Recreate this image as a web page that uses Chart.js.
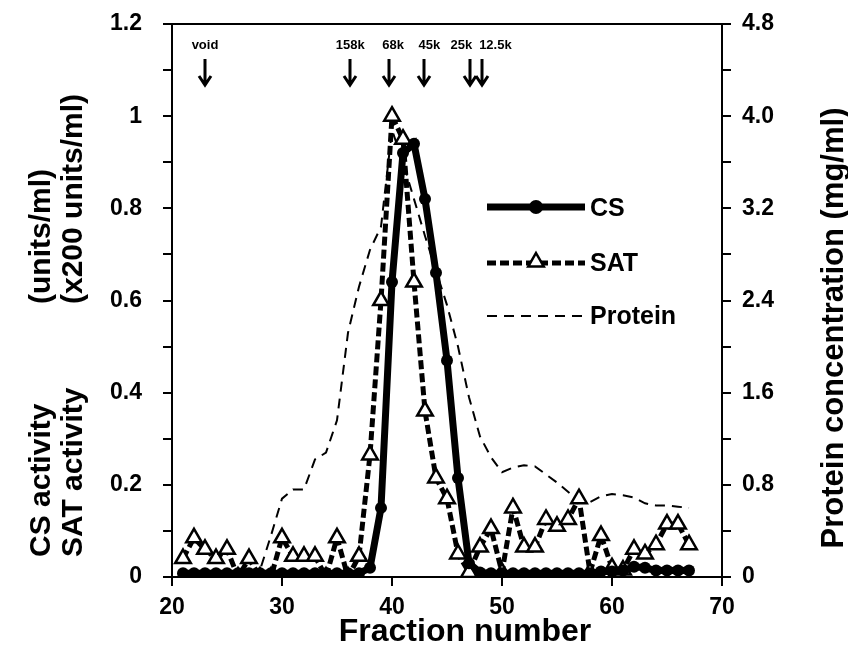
<!DOCTYPE html>
<html>
<head>
<meta charset="utf-8">
<script src="https://cdn.jsdelivr.net/npm/chart.js@4.4.1/dist/chart.umd.min.js"></script>
<style>
  html, body { margin: 0; padding: 0; background: #fff; }
  #wrap { width: 848px; height: 660px; }
</style>
</head>
<body>
<div id="wrap"><canvas id="chart" width="848" height="660"></canvas></div>
<script>
// fraction numbers for CS and SAT assays
const fractions = [21, 22, 23, 24, 25, 26, 27, 28, 29, 30, 31, 32, 33, 34, 35, 36, 37, 38, 39, 40,
  41, 42, 43, 44, 45, 46, 47, 48, 49, 50, 51, 52, 53, 54, 55, 56, 57, 58, 59, 60,
  61, 62, 63, 64, 65, 66, 67];

// CS activity (units/ml)
const csActivity = [0.008, 0.008, 0.008, 0.008, 0.008, 0.008, 0.008, 0.008, 0.008, 0.008,
  0.008, 0.008, 0.008, 0.008, 0.008, 0.008, 0.008, 0.02, 0.15, 0.64,
  0.92, 0.94, 0.82, 0.66, 0.47, 0.215, 0.03, 0.01, 0.008, 0.008,
  0.008, 0.008, 0.008, 0.008, 0.008, 0.008, 0.008, 0.008, 0.012, 0.012,
  0.014, 0.022, 0.02, 0.014, 0.014, 0.014, 0.014];

// SAT activity (x200 units/ml)
const satActivity = [0.04, 0.085, 0.06, 0.04, 0.06, 0.0, 0.04, 0.0, 0.0, 0.085,
  0.045, 0.045, 0.045, 0.0, 0.085, 0.0, 0.045, 0.265, 0.6, 1.0,
  0.95, 0.64, 0.36, 0.215, 0.17, 0.05, 0.01, 0.065, 0.105, 0.01,
  0.15, 0.065, 0.065, 0.125, 0.11, 0.125, 0.17, 0.01, 0.09, 0.02,
  0.015, 0.06, 0.05, 0.07, 0.115, 0.115, 0.07];

// protein concentration (mg/ml), right axis
const proteinFractions = [27, 28, 29, 30, 31, 32, 33, 34, 35, 36, 37, 38, 39, 40,
  41, 42, 43, 44, 45, 46, 47, 48, 49, 50, 51, 52, 53, 54, 55, 56, 57, 58, 59, 60,
  61, 62, 63, 64, 65, 66, 67];
const proteinConc = [0.0, 0.06, 0.36, 0.68, 0.76, 0.76, 1.02, 1.08, 1.36, 2.12, 2.52, 2.84, 3.04, 3.88,
  3.6, 3.28, 2.96, 2.66, 2.36, 2.0, 1.56, 1.22, 1.04, 0.91, 0.95, 0.97, 0.96, 0.89, 0.82, 0.74,
  0.66, 0.65, 0.7, 0.72, 0.71, 0.69, 0.64, 0.62, 0.62, 0.61, 0.6];

// molecular weight markers along the top
const markerLabels = ["void", "158k", "68k", "45k", "25k", "12.5k"];
const markerArrowAt = [23, 36.2, 39.7, 42.9, 47.1, 48.2];
const markerLabelAt = [23, 36.2, 40.1, 43.4, 46.3, 49.4];

const FONT = "'Liberation Sans', Arial, Helvetica, sans-serif";

const toPoints = (xs, ys) => xs.map((x, i) => ({ x, y: ys[i] }));

function vtext(ctx, s, cx, cy, align) {
  ctx.save();
  ctx.translate(cx, cy);
  ctx.rotate(-Math.PI / 2);
  ctx.textAlign = align;
  ctx.textBaseline = 'middle';
  ctx.fillText(s, 0, 0);
  ctx.restore();
}

function triangle(ctx, cx, cy, r) {
  ctx.beginPath();
  ctx.moveTo(cx, cy - r);
  ctx.lineTo(cx + r * 0.866, cy + r * 0.5);
  ctx.lineTo(cx - r * 0.866, cy + r * 0.5);
  ctx.closePath();
  ctx.fillStyle = '#fff';
  ctx.fill();
  ctx.lineWidth = 2.5;
  ctx.setLineDash([]);
  ctx.strokeStyle = '#000';
  ctx.stroke();
}

function arrow(ctx, cx, y0, y1) {
  ctx.beginPath();
  ctx.moveTo(cx, y0);
  ctx.lineTo(cx, y1 - 2);
  ctx.moveTo(cx - 6, y1 - 10);
  ctx.lineTo(cx, y1 - 1);
  ctx.lineTo(cx + 6, y1 - 10);
  ctx.stroke();
}

// frame top, annotations, titles and the inset legend
const decor = {
  id: 'decor',
  afterDraw(chart) {
    const ctx = chart.ctx, xs = chart.scales.x, a = chart.chartArea;
    ctx.save();
    ctx.strokeStyle = '#000';
    ctx.fillStyle = '#000';
    ctx.lineWidth = 2;
    ctx.beginPath();
    ctx.moveTo(a.left - 1, a.top);
    ctx.lineTo(a.right + 1, a.top);
    ctx.stroke();

    ctx.font = 'bold 13px ' + FONT;
    ctx.textAlign = 'center';
    ctx.textBaseline = 'alphabetic';
    markerLabels.forEach((t, i) => ctx.fillText(t, xs.getPixelForValue(markerLabelAt[i]), 49));
    ctx.lineWidth = 3;
    ctx.lineJoin = 'miter';
    markerArrowAt.forEach(f => arrow(ctx, Math.round(xs.getPixelForValue(f)), 59, 86));

    // axis titles
    ctx.font = 'bold 30px ' + FONT;
    vtext(ctx, 'CS activity', 42, 557, 'left');
    vtext(ctx, '(units/ml)', 42, 304, 'left');
    vtext(ctx, 'SAT activity', 74, 557, 'left');
    vtext(ctx, '(x200 units/ml)', 74, 304, 'left');
    ctx.font = 'bold 31px ' + FONT;
    vtext(ctx, 'Protein concentration (mg/ml)', 834, 328, 'center');
    ctx.font = 'bold 32px ' + FONT;
    ctx.textAlign = 'center';
    ctx.textBaseline = 'middle';
    ctx.fillText('Fraction number', 465, 632);

    // legend
    const lx0 = 487, lx1 = 585, lm = 536;
    ctx.strokeStyle = '#000';
    ctx.lineWidth = 7;
    ctx.setLineDash([]);
    ctx.beginPath(); ctx.moveTo(lx0, 207); ctx.lineTo(lx1, 207); ctx.stroke();
    ctx.beginPath(); ctx.arc(lm, 207, 7, 0, Math.PI * 2); ctx.fill();

    ctx.lineWidth = 5;
    ctx.setLineDash([9, 4]);
    ctx.beginPath(); ctx.moveTo(lx0, 263); ctx.lineTo(lx1, 263); ctx.stroke();
    triangle(ctx, lm, 262, 9);

    ctx.lineWidth = 2;
    ctx.setLineDash([10, 7]);
    ctx.beginPath(); ctx.moveTo(lx0, 316); ctx.lineTo(lx1, 316); ctx.stroke();
    ctx.setLineDash([]);

    ctx.fillStyle = '#000';
    ctx.font = 'bold 25px ' + FONT;
    ctx.textAlign = 'left';
    ctx.textBaseline = 'middle';
    ctx.fillText('CS', 590, 209);
    ctx.fillText('SAT', 590, 264);
    ctx.fillText('Protein', 590, 317);
    ctx.restore();
  }
};

const tickFont = { family: FONT, size: 23, weight: 'bold' };
const axisGrid = { drawOnChartArea: false, drawTicks: true, tickLength: 9, color: '#000', lineWidth: 2 };
const fitY = w => s => { s.width = w; s.paddingTop = 0; s.paddingBottom = 0; };

new Chart(document.getElementById('chart'), {
  type: 'line',
  data: {
    datasets: [
      {
        label: 'CS',
        data: toPoints(fractions, csActivity),
        yAxisID: 'y',
        borderColor: '#000',
        backgroundColor: '#000',
        borderWidth: 7,
        pointRadius: 6,
        pointBorderWidth: 0,
        pointBackgroundColor: '#000',
        order: 0,
      },
      {
        label: 'SAT',
        data: toPoints(fractions, satActivity),
        yAxisID: 'y',
        borderColor: '#000',
        borderWidth: 5,
        borderDash: [9, 4],
        pointStyle: 'triangle',
        pointRadius: 9,
        pointBorderWidth: 2.5,
        pointBorderColor: '#000',
        pointBackgroundColor: '#fff',
        order: 1,
      },
      {
        label: 'Protein',
        data: toPoints(proteinFractions, proteinConc),
        yAxisID: 'y2',
        borderColor: '#000',
        borderWidth: 2,
        borderDash: [10, 7],
        pointRadius: 0,
        order: 2,
      },
    ],
  },
  options: {
    responsive: false,
    animation: false,
    layout: { padding: { top: 24, left: 0, right: 0, bottom: 0 } },
    plugins: { legend: { display: false }, tooltip: { enabled: false } },
    scales: {
      x: {
        type: 'linear',
        min: 20,
        max: 70,
        afterFit: s => { s.height = 83; },
        border: { display: true, color: '#000', width: 2 },
        grid: axisGrid,
        ticks: { stepSize: 10, color: '#000', font: tickFont, padding: 8, maxRotation: 0 },
      },
      y: {
        position: 'left',
        min: 0,
        max: 1.2,
        afterFit: fitY(172),
        border: { display: true, color: '#000', width: 2 },
        grid: axisGrid,
        ticks: {
          stepSize: 0.1,
          color: '#000',
          font: tickFont,
          padding: 21,
          callback: v => {
            const k = Math.round(v * 10);
            if (k % 2) return '';
            return k === 0 ? '0' : (k === 10 ? '1' : (k / 10).toFixed(1));
          },
        },
      },
      y2: {
        position: 'right',
        min: 0,
        max: 4.8,
        afterFit: fitY(126),
        border: { display: true, color: '#000', width: 2 },
        grid: axisGrid,
        ticks: {
          stepSize: 0.4,
          color: '#000',
          font: tickFont,
          padding: 11,
          callback: v => {
            const k = Math.round(v / 0.4);
            if (k % 2) return '';
            return k === 0 ? '0' : (k * 0.4).toFixed(1);
          },
        },
      },
    },
  },
  plugins: [decor],
});
</script>
</body>
</html>
